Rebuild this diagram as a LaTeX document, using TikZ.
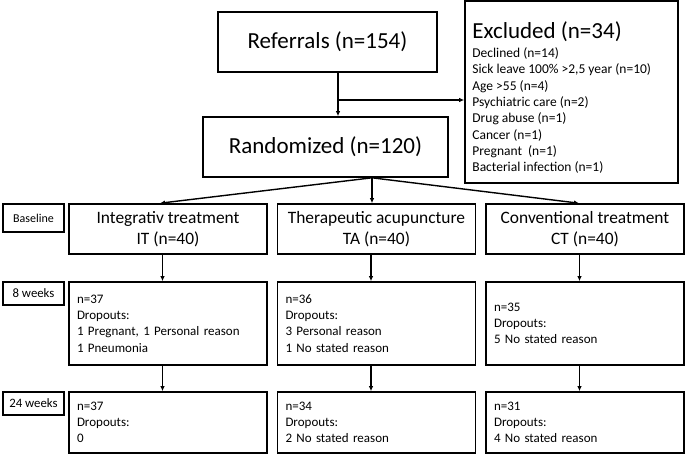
\documentclass[tikz,border=0pt]{standalone}
\usepackage{fontspec}
\setmainfont{Carlito}
\usetikzlibrary{arrows.meta,positioning,calc}
\tikzset{
  bigbox/.style={draw, line width=1.6pt, align=center, inner sep=0pt,
    font=\fontsize{23}{27}\selectfont},
  armbox/.style={draw, line width=1.6pt, align=center, inner sep=0pt,
    minimum width=198pt, minimum height=50pt, font=\fontsize{17.4}{21.5}\selectfont},
  countbox/.style={draw, line width=1.6pt, align=left, inner xsep=8pt, inner ysep=0pt,
    text width=182pt, font=\fontsize{13}{16.3}\selectfont},
  timebox/.style={draw, line width=1.6pt, align=center, inner sep=0pt,
    minimum width=61pt, font=\fontsize{12.8}{15}\selectfont},
  arrow/.style={-{Latex[length=5pt,width=4.5pt]}, line width=1.4pt},
}

\begin{document}
\begin{tikzpicture}[x=1pt, y=-1pt]
  \useasboundingbox (0,0) rectangle (685,454);

  % top part
  \node[bigbox, minimum width=219pt, minimum height=60pt] (referrals) at (327.5,42)
    {Referrals (n=154)};
  \node[bigbox, minimum width=245pt, minimum height=60pt] (randomized) at (325.5,147)
    {Randomized (n=120)};
  \node[draw, line width=1.6pt, minimum width=213pt, minimum height=182pt] (excluded)
    at (571.5,92) {};
  \node[align=left, inner sep=0pt, anchor=north west, font=\fontsize{13.5}{16.3}\selectfont]
    (exclitems) at ([xshift=8pt,yshift=-21pt]excluded.north west)
    {{\fontsize{23}{27}\selectfont Excluded (n=34)}\\[3pt]
     Declined (n=14)\\
     Sick leave 100\% >2,5 year (n=10)\\
     Age >55 (n=4)\\
     Psychiatric care (n=2)\\
     Drug abuse (n=1)\\
     Cancer (n=1)\\
     Pregnant \ (n=1)\\
     Bacterial infection (n=1)};

  \draw[arrow] ([xshift=10.5pt]referrals.south) -- ([xshift=12.5pt]randomized.north);
  \coordinate (branch) at (338,100);
  \draw[arrow] (branch) -- (branch -| excluded.west);

  % time points
  \node[timebox, minimum height=28pt, font=\fontsize{12}{14}\selectfont] (baseline)
    at (33.5,218) {Baseline};
  \node[timebox, minimum height=23pt] (week8) at (33.5,293.5) {8 weeks};
  \node[timebox, minimum height=23pt] (week24) at (33.5,403.5) {24 weeks};

  % arms
  \foreach \name/\cx/\title/\short in {it/168/Integrativ treatment/IT,
      ta/376.5/Therapeutic acupuncture/TA, ct/585/Conventional treatment/CT} {
    \node[armbox] (\name) at (\cx,229) {\title\\\short{} (n=40)};
  }

  \node[countbox, minimum height=83pt] (it8) at (168,323.5)
    {n=37\\Dropouts:\\1 Pregnant, 1 Personal reason\\1 Pneumonia};
  \node[countbox, minimum height=83pt] (ta8) at (376.5,323.5)
    {n=36\\Dropouts:\\3 Personal reason\\1 No stated reason};
  \node[countbox, minimum height=83pt] (ct8) at (585,323.5)
    {n=35\\Dropouts:\\5 No stated reason};

  \node[countbox, minimum height=61pt] (it24) at (168,422.5)
    {n=37\\Dropouts:\\0};
  \node[countbox, minimum height=61pt] (ta24) at (376.5,422.5)
    {n=34\\Dropouts:\\2 No stated reason};
  \node[countbox, minimum height=61pt] (ct24) at (585,422.5)
    {n=31\\Dropouts:\\4 No stated reason};

  % connectors
  \coordinate (split) at ([xshift=46.5pt]randomized.south);
  \draw[arrow] (split) -- ([xshift=-8pt]it.north);
  \draw[arrow] (split) -- (split |- ta.north);
  \draw[arrow] (split) -- ([xshift=-6pt]ct.north);

  \foreach \name in {it,ta,ct} {
    \draw[arrow] ([xshift=-5.5pt]\name.south) -- ([xshift=-5.5pt]\name8.north);
    \draw[arrow] ([xshift=-5.5pt]\name8.south) -- ([xshift=-5.5pt]\name24.north);
  }
\end{tikzpicture}
\end{document}
